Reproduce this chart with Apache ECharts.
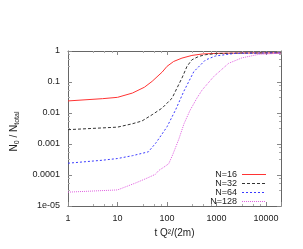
<!DOCTYPE html>
<html>
<head>
<meta charset="utf-8">
<script src="https://cdn.jsdelivr.net/npm/echarts@6/dist/echarts.min.js"></script>
<style>html,body{margin:0;padding:0;background:#fff;}#c{width:303px;height:249px;}</style>
</head>
<body>
<div id="c"></div>
<script>
var xTickLabels = ['1', '10', '100', '1000', '10000'];
var yTickLabels = ['1e-05', '0.0001', '0.001', '0.01', '0.1', '1'];
var seriesNames = ['N=16', 'N=32', 'N=64', 'N=128'];

var xN16 = [1, 5, 10, 20, 35, 50, 80, 100, 136, 200, 318, 510, 1000, 3000, 20000];
var yN16 = [0.0245, 0.029, 0.032, 0.044, 0.068, 0.105, 0.21, 0.32, 0.46, 0.59, 0.72, 0.8, 0.84, 0.86, 0.87];

var xN32 = [1, 10, 20, 31, 50, 80, 126, 159, 200, 253, 318, 437, 600, 1000, 3000, 20000];
var yN32 = [0.0029, 0.0035, 0.0045, 0.0055, 0.0088, 0.0145, 0.03, 0.064, 0.134, 0.32, 0.52, 0.67, 0.76, 0.83, 0.86, 0.87];

var xN64 = [1, 5, 10, 20, 42, 60, 100, 150, 218, 347, 594, 944, 2380, 20000];
var yN64 = [0.00024, 0.0003, 0.00034, 0.00042, 0.00056, 0.0011, 0.0036, 0.013, 0.05, 0.215, 0.51, 0.69, 0.84, 0.87];

var xN128 = [1, 10, 23, 40, 58, 68, 80, 108, 130, 172, 220, 290, 400, 510, 877, 1750, 3250, 7100, 20000];
var yN128 = [2.8e-5, 3.3e-5, 5.5e-5, 8e-5, 1.05e-4, 1.4e-4, 1.65e-4, 2.3e-4, 4.5e-4, 0.0014, 0.0045, 0.012, 0.03, 0.055, 0.15, 0.4, 0.6, 0.78, 0.85];

var colors = ['#ff3333', '#333333', '#3a3aff', '#e060e0'];
var dashes = ['solid', [3, 2], [2, 2], [1, 1]];

function pairs(xs, ys) { return xs.map(function (x, i) { return [x, ys[i]]; }); }

// legend sample: a 24-wide strip, built as dash segments following the series' dash pattern
function stripPath(dash) {
  var on = dash === 'solid' ? 24 : dash[0], off = dash === 'solid' ? 0 : dash[1];
  var p = '', x = 0;
  while (x < 24) {
    var e = Math.min(24, x + on);
    p += 'M' + x + ',0H' + e + 'V1H' + x + 'Z';
    x = e + off;
  }
  if (p.indexOf('H24') < 0) p += 'M24,0H24.01V1H24Z';
  return 'path://' + p;
}

var chart = echarts.init(document.getElementById('c'), null, {renderer: 'canvas'});
var FONT = 'Liberation Sans';
var frame = '#666';
function logAxis(pos, show, min, max, labels, extra) {
  var a = {
    type: 'log', logBase: 10, position: pos, min: min, max: max,
    axisLine: {show: true, onZero: false, lineStyle: {color: frame, width: 1}},
    axisTick: {show: true, inside: true, length: 4, lineStyle: {color: '#888'}},
    minorTick: {show: true, splitNumber: 4, length: 2, lineStyle: {color: '#aaa'}},
    splitLine: {show: false},
    axisLabel: {show: show, fontFamily: FONT, fontSize: 9, color: '#222',
      formatter: function (v) { return labels[Math.round(Math.log10(v)) - Math.round(Math.log10(min))]; }}
  };
  for (var k in extra) a[k] = extra[k];
  return a;
}

var allX = [xN16, xN32, xN64, xN128];
var allY = [yN16, yN32, yN64, yN128];
var series = seriesNames.map(function (name, i) {
  return {name: name, type: 'line', data: pairs(allX[i], allY[i]), showSymbol: false, symbol: 'none',
    lineStyle: {color: colors[i], width: 1, type: dashes[i]}, itemStyle: {color: colors[i]}};
});
var legendData = seriesNames.map(function (name, i) {
  return {name: name, icon: stripPath(dashes[i]),
    itemStyle: {color: colors[i], borderWidth: 0, opacity: 1}};
});

var option = {
  animation: false,
  grid: {left: 66, right: 22, top: 51, bottom: 43},
  xAxis: [
    logAxis('bottom', true, 1, 20000, xTickLabels, {
      name: 't Q²/(2m)', nameLocation: 'middle', nameGap: 17,
      nameTextStyle: {fontFamily: FONT, fontSize: 10, color: '#222'}
    }),
    logAxis('top', false, 1, 20000, xTickLabels, {})
  ],
  yAxis: [
    logAxis('left', true, 1e-5, 1, yTickLabels, {
      name: '{n|N}{s|0}{n| / N}{s|total}', nameLocation: 'middle', nameGap: 47, nameRotate: 90,
      nameTextStyle: {fontFamily: FONT, fontSize: 10, color: '#222', padding: [0, 6, 0, 0],
        rich: {
          n: {fontFamily: FONT, fontSize: 10, color: '#222', lineHeight: 14, verticalAlign: 'middle'},
          s: {fontFamily: FONT, fontSize: 7, color: '#222', lineHeight: 14, verticalAlign: 'bottom', padding: [6, 0, 0, 0]}
        }}
    }),
    logAxis('right', false, 1e-5, 1, yTickLabels, {})
  ],
  legend: {
    orient: 'vertical', right: 32, top: 165, align: 'right',
    itemWidth: 24, itemHeight: 2, itemGap: 0,
    itemStyle: {borderWidth: 0},
    textStyle: {fontFamily: FONT, fontSize: 9, color: '#222', lineHeight: 9},
    data: legendData
  },
  series: series
};
chart.setOption(option);
</script>
</body>
</html>
